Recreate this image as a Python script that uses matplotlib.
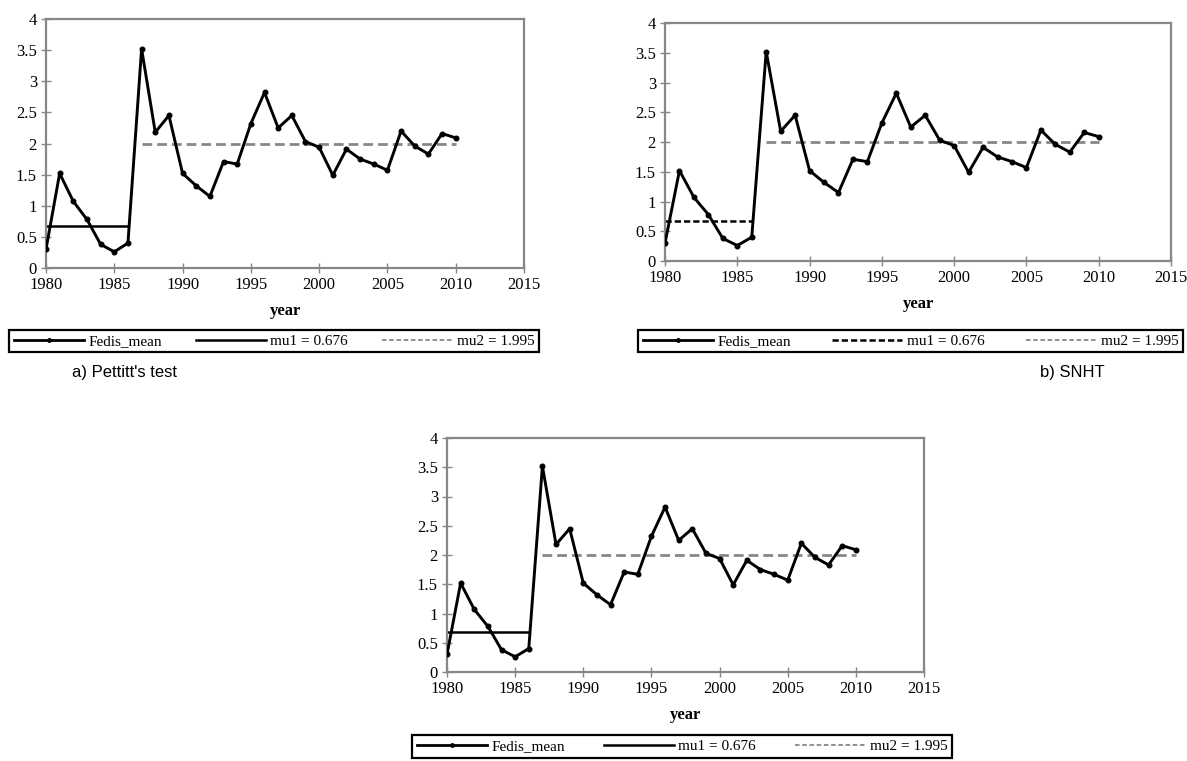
import matplotlib
matplotlib.use("Agg")
import matplotlib.pyplot as plt
from matplotlib.ticker import FormatStrFormatter, MultipleLocator
from matplotlib.lines import Line2D

# data
years = list(range(1980, 2011))
fedis_mean = [0.30, 1.52, 1.07, 0.78, 0.38, 0.26, 0.40,
              3.52, 2.18, 2.45, 1.52, 1.32, 1.15, 1.71, 1.67, 2.32,
              2.82, 2.25, 2.45, 2.03, 1.94, 1.49, 1.91, 1.75, 1.67,
              1.57, 2.20, 1.96, 1.83, 2.16, 2.09]
break_year = 1987
mu1 = 0.676
mu2 = 1.995
labels = ["Fedis_mean", "mu1 = 0.676", "mu2 = 1.995"]
captions = ["a) Pettitt's test", "b) SNHT"]

W, H = 1187, 761
fig = plt.figure(figsize=(W / 100, H / 100), dpi=100)

serif = ["Liberation Serif", "DejaVu Serif"]
GREY = "#878787"


def box(l, t, r, b):
    return [l / W, 1 - b / H, (r - l) / W, (b - t) / H]


def draw_panel(ax_px, leg_px, mu1_dashed):
    ax = fig.add_axes(box(*ax_px))
    before = [i for i, y in enumerate(years) if y < break_year]
    after = [i for i, y in enumerate(years) if y >= break_year]

    ax.plot(years, fedis_mean, color="black", lw=2.1, marker="o", ms=3.3, zorder=3)
    ls1 = (0, (2.5, 1.2)) if mu1_dashed else "-"
    ax.plot([years[before[0]], years[before[-1]]], [mu1, mu1], color="black", lw=1.8, ls=ls1, zorder=2)
    ax.plot([years[after[0]], years[after[-1]]], [mu2, mu2], color=GREY, lw=2.0, ls=(0, (3.5, 1.8)), zorder=2)

    ax.set_xlim(1980, 2015)
    ax.set_ylim(0, 4)
    ax.xaxis.set_major_locator(MultipleLocator(5))
    ax.yaxis.set_major_locator(MultipleLocator(0.5))
    ax.yaxis.set_major_formatter(FormatStrFormatter("%g"))
    for s in ax.spines.values():
        s.set_color(GREY)
        s.set_linewidth(1.6)
    ax.tick_params(direction="inout", length=7, width=1.0, color=GREY, labelsize=12, pad=3)
    for t in ax.get_xticklabels() + ax.get_yticklabels():
        t.set_family(serif)
    ax.set_xlabel("year", family=serif, fontweight="bold", fontsize=12, labelpad=7)

    handles = [
        Line2D([], [], color="black", lw=2.0, marker="o", ms=2.5),
        Line2D([], [], color="black", lw=1.8, ls=ls1),
        Line2D([], [], color=GREY, lw=1.3, ls=(0, (2.5, 1.5))),
    ]
    leg = fig.legend(handles, labels, loc="center", bbox_to_anchor=box(*leg_px),
                     mode="expand", ncol=3, borderaxespad=0, handlelength=4.6,
                     numpoints=1, fancybox=False, edgecolor="black", framealpha=1,
                     prop={"family": serif, "size": 11}, handletextpad=0.3,
                     borderpad=0.3)
    leg.get_frame().set_linewidth(1.6)
    return ax


draw_panel((46, 19, 524, 268), (9, 329, 539, 353), False)
draw_panel((665, 23, 1171, 261), (638, 329, 1183, 353), True)
draw_panel((447, 438, 924, 672), (412, 734, 952, 759), False)

fig.text(125 / W, 1 - 373 / H, captions[0], family=["Liberation Sans", "DejaVu Sans"],
         fontsize=12, ha="center", va="center")
fig.text(1072 / W, 1 - 373 / H, captions[1], family=["Liberation Sans", "DejaVu Sans"],
         fontsize=12, ha="center", va="center")

fig.savefig("out.png", dpi=100)
